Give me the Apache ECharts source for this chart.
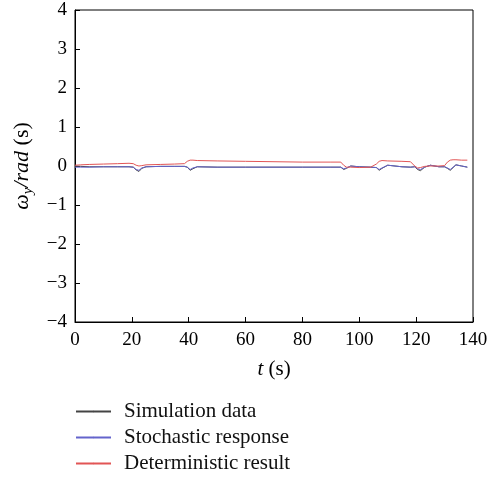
<!DOCTYPE html>
<html>
<head>
<meta charset="utf-8">
<script src="https://cdn.jsdelivr.net/npm/echarts@6/dist/echarts.min.js"></script>
<style>
  html, body { margin: 0; padding: 0; background: #fff; }
  #chart { width: 495px; height: 478px; }
</style>
</head>
<body>
<div id="chart"></div>
<script>
// time samples (s)
const times = [0, 2, 5, 10, 15, 19, 20.5, 21.5, 22.5, 23.5, 25, 30, 35, 38.5, 39.5, 40.5, 41.5, 43, 50, 60, 70, 80, 90, 93.5, 94.5, 95.5, 97, 100, 104, 106, 107, 108, 110, 115, 118, 119.5, 120.5, 121.5, 123, 125, 128, 130, 131, 132, 133, 134, 136, 138];

const simulation = [0, -0.01, -0.02, -0.02, -0.02, -0.02, -0.03, -0.1, -0.14, -0.06, -0.02, -0.01, -0.01, -0.01, -0.03, -0.11, -0.07, -0.02, -0.03, -0.03, -0.03, -0.03, -0.03, -0.03, -0.09, -0.06, 0.0, -0.02, -0.03, -0.04, -0.11, -0.06, 0.02, -0.02, -0.03, -0.02, -0.09, -0.12, -0.03, 0.02, -0.02, -0.02, -0.06, -0.11, -0.04, 0.03, 0.0, -0.03];

const stochastic = [-0.03, -0.03, -0.03, -0.02, -0.02, -0.02, -0.03, -0.09, -0.11, -0.05, -0.02, -0.01, -0.01, -0.01, -0.03, -0.09, -0.05, -0.02, -0.03, -0.03, -0.03, -0.03, -0.03, -0.03, -0.07, -0.05, 0.0, -0.02, -0.03, -0.04, -0.09, -0.05, 0.02, -0.02, -0.03, -0.02, -0.07, -0.09, -0.03, 0.02, -0.02, -0.02, -0.05, -0.09, -0.03, 0.03, 0.0, -0.03];

const deterministic = [0.02, 0.03, 0.04, 0.05, 0.06, 0.07, 0.06, 0.02, 0.0, 0.01, 0.03, 0.04, 0.05, 0.06, 0.12, 0.15, 0.15, 0.14, 0.13, 0.12, 0.11, 0.1, 0.1, 0.1, 0.02, -0.03, -0.03, -0.04, -0.03, 0.05, 0.12, 0.14, 0.13, 0.12, 0.11, 0.0, -0.05, -0.04, -0.01, 0.0, 0.0, 0.01, 0.1, 0.15, 0.16, 0.16, 0.15, 0.15];

const seriesNames = ['Simulation data', 'Stochastic response', 'Deterministic result'];
const seriesColors = ['#444444', '#6464cc', '#e25555'];

const font = '"Liberation Serif", "DejaVu Serif", serif';

const chart = echarts.init(document.getElementById('chart'));

function pairs(vals) {
  return times.map((t, i) => [t, vals[i]]);
}

const option = {
  backgroundColor: '#fff',
  animation: false,
  textStyle: { fontFamily: font, color: '#000' },
  grid: {
    left: 75, right: 22, top: 10, bottom: 156,
    show: true, borderColor: '#000', borderWidth: 1
  },
  legend: {
    orient: 'vertical',
    left: 75,
    top: 401,
    padding: 0,
    itemWidth: 35,
    itemHeight: 2,
    itemGap: 5,
    textStyle: { fontFamily: font, fontSize: 21, color: '#111', padding: [0, 0, 0, 8] },
    data: seriesNames
  },
  xAxis: {
    type: 'value',
    min: 0, max: 140, interval: 20,
    name: '{i|t} (s)',
    nameLocation: 'middle',
    nameGap: 37,
    nameTextStyle: {
      fontFamily: font, fontSize: 21, color: '#000',
      rich: { i: { fontFamily: font, fontSize: 21, fontStyle: 'italic', color: '#000' } }
    },
    axisLine: { onZero: false, lineStyle: { color: '#000', width: 1 } },
    axisTick: { inside: true, length: 5, lineStyle: { color: '#000' } },
    axisLabel: { fontFamily: font, fontSize: 19, color: '#000', margin: 9 },
    splitLine: { show: false }
  },
  yAxis: {
    type: 'value',
    min: -4, max: 4, interval: 1,
    name: '{i|ω}{s|y}{i|/rad} (s)',
    nameLocation: 'middle',
    nameGap: 29,
    nameRotate: 90,
    nameTextStyle: {
      fontFamily: font, fontSize: 22, color: '#000',
      rich: {
        i: { fontFamily: font, fontSize: 22, fontStyle: 'italic', color: '#000' },
        s: { fontFamily: font, fontSize: 15, fontStyle: 'italic', color: '#000', verticalAlign: 'bottom', padding: [0, 0, -3, 0] }
      }
    },
    axisLine: { onZero: false, lineStyle: { color: '#000', width: 1 } },
    axisTick: { inside: true, length: 5, lineStyle: { color: '#000' } },
    axisLabel: {
      fontFamily: font, fontSize: 19, color: '#000', margin: 8,
      formatter: v => (v < 0 ? '\u2212' + Math.abs(v) : String(v))
    },
    splitLine: { show: false }
  },
  series: [simulation, stochastic, deterministic].map((vals, i) => ({
    name: seriesNames[i],
    type: 'line',
    data: pairs(vals),
    symbol: 'none',
    z: 1 + i,
    lineStyle: { color: seriesColors[i], width: 1 },
    itemStyle: { color: seriesColors[i] }
  }))
};

chart.setOption(option);
</script>
</body>
</html>
